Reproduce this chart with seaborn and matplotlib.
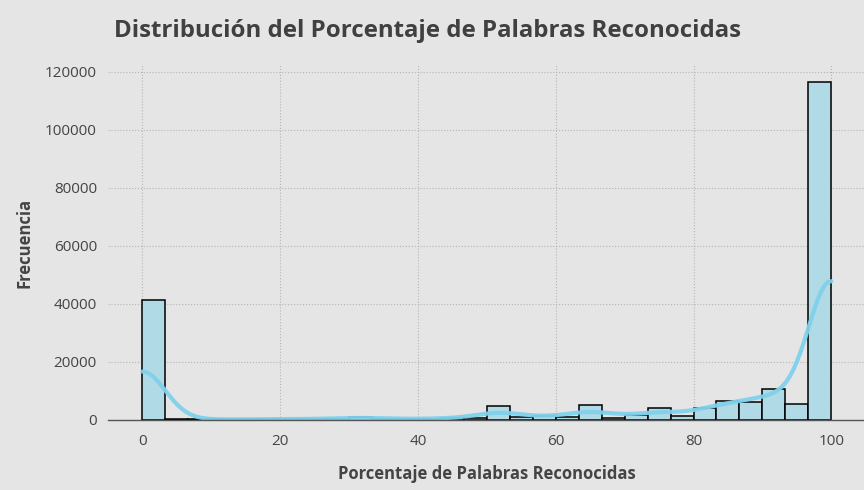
import numpy as np
import matplotlib.pyplot as plt
import seaborn as sns

n_clases = 30
frecuencias = [41300, 200, 150, 150, 200, 250, 300, 350, 400, 1100,
               400, 400, 300, 700, 600, 4900, 900, 1200, 1000, 5300,
               800, 1600, 4000, 1300, 4200, 6500, 6100, 10800, 5500, 116500]

# Valor representativo de cada clase: los extremos son exactamente 0 % y 100 %
bordes_clases = np.linspace(0, 100, n_clases + 1)
porcentajes = (bordes_clases[:-1] + bordes_clases[1:]) / 2
porcentajes[0] = 0
porcentajes[-1] = 100

# Ancho de banda equivalente al de los datos originales (~3.3 puntos)
desv = np.sqrt(np.cov(porcentajes, aweights=frecuencias))
bw = 3.3 / desv

sns.set_style('whitegrid')
plt.rcParams['font.family'] = ['Open Sans', 'DejaVu Sans']
plt.rcParams.update({
    'axes.facecolor': '#e5e5e5',
    'figure.facecolor': '#e5e5e5',
    'grid.color': '#b5b5b5',
    'grid.linestyle': ':',
    'grid.linewidth': 0.8,
})

fig = plt.figure(figsize=(8.64, 4.9), dpi=100)
ax = fig.add_axes([0.125, 0.143, 0.877, 0.724])

sns.histplot(x=porcentajes, weights=frecuencias, bins=n_clases, binrange=(0, 100), kde=True,
             color='#7fd1ec', facecolor='#b0dae5', edgecolor='black', linewidth=1.1,
             kde_kws={'bw_method': bw}, line_kws={'linewidth': 3, 'alpha': 0.95}, ax=ax)

for lado in ['left', 'top', 'right']:
    ax.spines[lado].set_visible(False)
ax.spines['bottom'].set_color('#555555')
ax.spines['bottom'].set_linewidth(1)

ax.set_xticks([0, 20, 40, 60, 80, 100])
ax.tick_params(axis='x', length=5, color='#555555', labelsize=11, labelcolor='#444444', pad=5)
ax.tick_params(axis='y', length=0, labelsize=11, labelcolor='#444444', pad=8)

ax.set_xlabel('Porcentaje de Palabras Reconocidas', fontsize=12, fontweight='bold',
              color='#444444', labelpad=12)
ax.set_ylabel('Frecuencia', fontsize=12, fontweight='bold', color='#444444', labelpad=8)
fig.suptitle('Distribución del Porcentaje de Palabras Reconocidas', x=0.495, y=0.962,
             va='top', fontsize=17.3, fontweight='bold', color='#404040')

fig.savefig('out.png', dpi=100)
